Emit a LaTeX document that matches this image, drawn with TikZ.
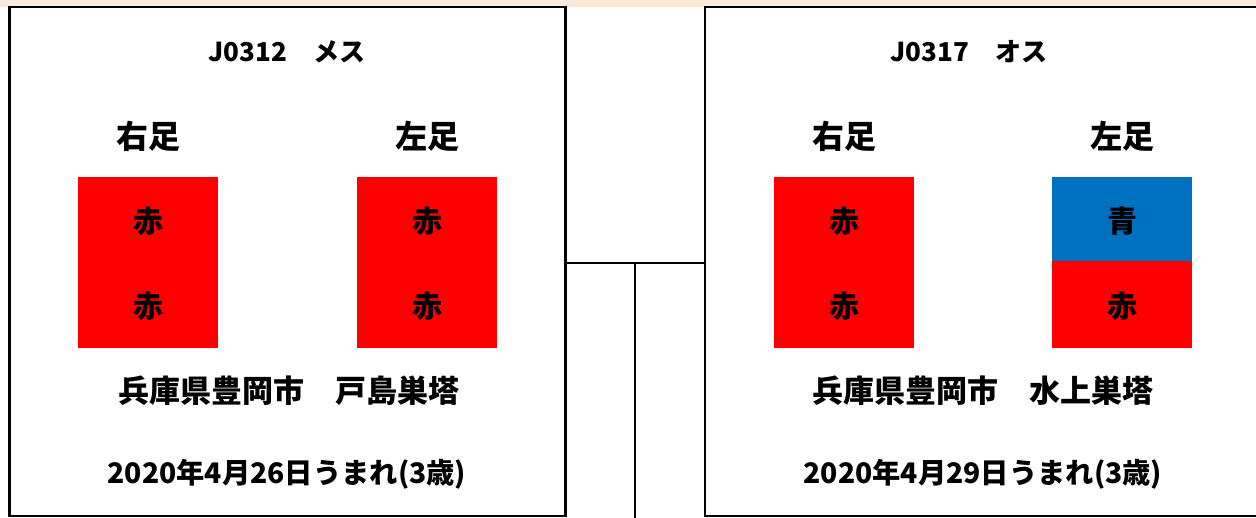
\documentclass[tikz,border=0pt]{standalone}
\usepackage{fontspec}
\setmainfont{Noto Sans CJK JP}
\definecolor{peach}{HTML}{FDE9D9}
\definecolor{legred}{HTML}{FF0000}
\definecolor{legblue}{HTML}{0070C0}
\begin{document}
\begin{tikzpicture}[x=1pt,y=-1pt,
  frame/.style={draw=black, line width=2.8pt, fill=white, inner sep=0pt, outer sep=0pt,
    minimum width=#1, minimum height=509pt, anchor=north west},
  leg/.style={fill=#1, minimum width=140pt, inner sep=0pt, outer sep=0pt, anchor=north west},
  txt/.style={font=\fontsize{30}{34}\selectfont\bfseries, inner sep=0pt},
  lbl/.style={font=\fontsize{32}{36}\selectfont\bfseries, inner sep=0pt},
  loc/.style={font=\fontsize{31}{35}\selectfont\bfseries, inner sep=0pt},
  dat/.style={font=\fontsize{28.3}{33}\selectfont\bfseries, inner sep=0pt},
  ttl/.style={font=\fontsize{26}{30}\selectfont\bfseries, inner sep=0pt},
  conn/.style={line width=2.6pt}]
\useasboundingbox (0,0) rectangle (1256,518);
\clip (0,0) rectangle (1256,518);
\fill[peach] (0,0) rectangle (1256,7.5);

% frames
\node[frame=556pt] (L) at (9.5,7) {};
\node[frame=557pt] (R) at (705,7) {};

% connector
\coordinate (j) at (635,263);
\coordinate (jb) at (635,530);
\draw[conn] (L.east |- j) -- (R.west |- j);
\draw[conn] (j) -- (jb);

% left bird
\node[ttl] (lt) at (287,52) {J0312　メス};
\node[lbl] (lr) at (148,136) {右足};
\node[lbl] (ll) at (427,136) {左足};
\node[leg=legred, minimum height=171pt] (lrb) at (78,177) {};
\node[leg=legred, minimum height=171pt] (llb) at (357,177) {};
\node[txt] at (148,221) {赤};
\node[txt] at (148,306) {赤};
\node[txt] at (427,221) {赤};
\node[txt] at (427,306) {赤};
\node[loc] (lp) at (289,391) {兵庫県豊岡市　戸島巣塔};
\node[dat] (ld) at (287,474) {2020年4月26日うまれ(3歳)};

% right bird
\node[ttl] (rt) at (969,52) {J0317　オス};
\node[lbl] (rr) at (844,136) {右足};
\node[lbl] (rl) at (1122,136) {左足};
\node[leg=legred, minimum height=171pt] (rrb) at (774,177) {};
\node[leg=legblue, minimum height=84pt] (rlt) at (1052,177) {};
\node[leg=legred, minimum height=87pt] (rlb) at (1052,261) {};
\node[txt] at (844,221) {赤};
\node[txt] at (844,306) {赤};
\node[txt] at (1122,221) {青};
\node[txt] at (1122,306) {赤};
\node[loc] (rp) at (983,391) {兵庫県豊岡市　水上巣塔};
\node[dat] (rd) at (983,474) {2020年4月29日うまれ(3歳)};
\end{tikzpicture}
\end{document}
